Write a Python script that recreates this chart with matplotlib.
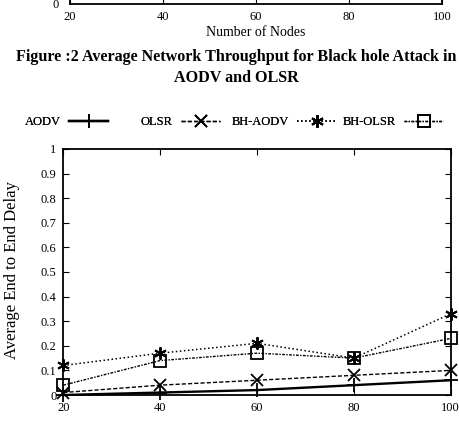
import numpy as np
import matplotlib
matplotlib.use("Agg")
import matplotlib.pyplot as plt

plt.rcParams['font.family'] = ['Liberation Serif', 'DejaVu Serif']
plt.rcParams['xtick.direction'] = 'in'
plt.rcParams['ytick.direction'] = 'in'

nodes = [20, 40, 60, 80, 100]
aodv = [0.00, 0.01, 0.02, 0.04, 0.06]
olsr = [0.01, 0.04, 0.06, 0.08, 0.10]
bh_aodv = [0.12, 0.17, 0.21, 0.15, 0.33]
bh_olsr = [0.04, 0.14, 0.17, 0.15, 0.23]
yticks = np.round(np.arange(0, 1.01, 0.1), 1)
ylabels = ["0"] + ["%.1f" % v for v in yticks[1:-1]] + ["1"]

W, H = 460, 422
fig = plt.figure(figsize=(W / 100, H / 100), dpi=100)

# bottom of the previous figure on the page
top = fig.add_axes([70 / W, 1 - 4 / H, (442 - 70) / W, 0.5])
top.set_xlim(20, 100)
top.set_ylim(0, 1)
top.set_xticks(nodes)
top.set_yticks([0])
top.set_yticklabels(["0"])
top.tick_params(axis='x', labelsize=9, length=4, pad=5)
top.tick_params(axis='y', labelsize=9, length=0, pad=8)
for s in top.spines.values():
    s.set_linewidth(1.3)
fig.text(256 / W, 1 - 32 / H, "Number of Nodes", ha='center', va='center', fontsize=10)

fig.text(236 / W, 1 - 57 / H, "Figure :2 Average Network Throughput for Black hole Attack in",
         ha='center', va='center', fontsize=11.6, fontweight='bold')
fig.text(236 / W, 1 - 78 / H, "AODV and OLSR",
         ha='center', va='center', fontsize=11.6, fontweight='bold')

ax = fig.add_axes([63.3 / W, 1 - 395 / H, (450.7 - 63.3) / W, (395 - 149) / H])
l1, = ax.plot(nodes, aodv, '-', color='black', lw=1.7, marker='+', ms=10, mew=1.3, clip_on=False)
l2, = ax.plot(nodes, olsr, '--', color='black', lw=1.0, dashes=(3, 1.5), marker='x', ms=8, mew=1.3, clip_on=False)
l3, = ax.plot(nodes, bh_aodv, ':', color='black', lw=1.1, marker=(6, 2, 0), ms=9, mew=1.4, clip_on=False)
l4, = ax.plot(nodes, bh_olsr, '-.', color='black', lw=1.0, dashes=(2, 1, 1, 1), marker='s', ms=8,
              mfc='none', mew=1.3, clip_on=False)
ax.set_xlim(20, 100)
ax.set_ylim(0, 1)
ax.set_xticks(nodes)
ax.set_yticks(yticks)
ax.set_yticklabels(ylabels)
ax.tick_params(top=True, right=True, labelsize=9, length=4, pad=5)
for s in ax.spines.values():
    s.set_linewidth(1.3)
fig.text(12 / W, 1 - 270 / H, "Average End to End Delay", rotation=90, ha='center', va='center', fontsize=12)

# gnuplot style key: right-justified text, sample to the right
entries = [(l1, "AODV", 108), (l2, "OLSR", 220), (l3, "BH-AODV", 336), (l4, "BH-OLSR", 443)]
for line, name, xend in entries:
    lg = fig.legend([line], [name], loc='center right', bbox_to_anchor=(xend / W, 1 - 122 / H),
                    frameon=False, markerfirst=False, handlelength=3.1, handletextpad=0.7,
                    borderpad=0, borderaxespad=0, fontsize=9)
    fig.add_artist(lg)

fig.savefig("out.png", dpi=100)
